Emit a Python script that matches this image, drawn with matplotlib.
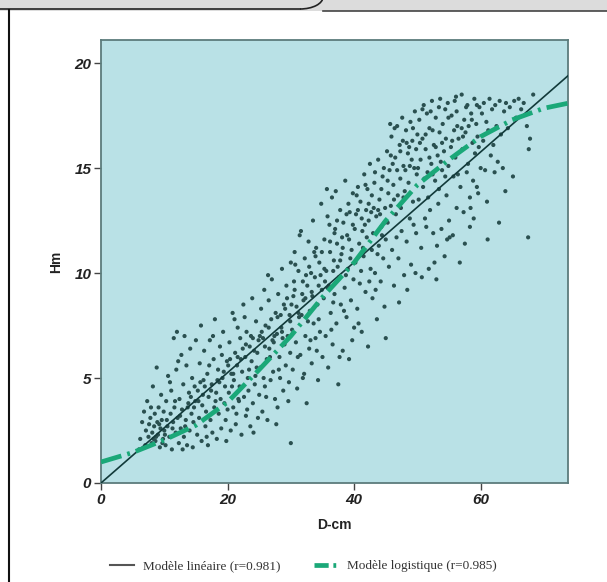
import numpy as np
import matplotlib.pyplot as plt
from matplotlib.lines import Line2D
from matplotlib.patches import Rectangle, Arc

D_cm = [
    6.2, 6.5, 6.8, 7.0, 7.1, 7.3, 7.5, 7.6, 7.8, 8.0, 8.1, 8.2, 8.4, 8.5, 8.6, 8.8, 8.9, 9.0, 9.1, 9.3,
    9.4, 9.5, 9.6, 9.8, 9.9, 10.0, 6.0, 7.9, 8.7, 9.7,
    10.2, 10.3, 10.5, 10.6, 10.8, 11.0, 11.1, 11.2, 11.4, 11.5, 11.6, 11.8, 11.9, 12.0, 12.1, 12.3, 12.4,
    12.6, 12.7, 12.8, 13.0, 13.1, 13.2, 13.4, 13.5, 13.6, 13.8, 13.9, 14.0, 14.1, 14.3, 14.4, 14.5, 14.6,
    14.8, 14.9, 15.0, 10.9, 12.2, 13.3, 14.2, 11.7, 12.9, 10.4,
    15.2, 15.3, 15.5, 15.6, 15.8, 15.9, 16.0, 16.2, 16.3, 16.5, 16.6, 16.8, 16.9, 17.0, 17.2, 17.3, 17.5,
    17.6, 17.8, 17.9, 18.0, 18.2, 18.3, 18.5, 18.6, 18.8, 18.9, 19.0, 19.2, 19.3, 19.5, 19.6, 19.8, 19.9,
    20.0, 16.1, 17.1, 18.1, 19.1, 15.7, 16.7, 17.7, 18.7, 19.7,
    20.2, 20.3, 20.5, 20.6, 20.8, 20.9, 21.0, 21.2, 21.3, 21.5, 21.6, 21.8, 21.9, 22.0, 22.2, 22.3, 22.5,
    22.6, 22.8, 22.9, 23.0, 23.2, 23.3, 23.5, 23.6, 23.8, 23.9, 24.0, 24.2, 24.3, 24.5, 24.6, 24.8, 24.9,
    25.0, 20.4, 21.1, 21.7, 22.4, 23.1, 23.7, 24.4, 22.7, 24.1, 21.4, 20.7,
    25.2, 25.3, 25.5, 25.6, 25.8, 25.9, 26.0, 26.2, 26.3, 26.5, 26.6, 26.8, 26.9, 27.0, 27.2, 27.3, 27.5,
    27.6, 27.8, 27.9, 28.0, 28.2, 28.3, 28.5, 28.6, 28.8, 28.9, 29.0, 29.2, 29.3, 29.5, 29.6, 29.8, 29.9,
    30.0, 25.4, 26.1, 26.7, 27.4, 28.1, 28.7, 29.4, 26.4, 27.7, 29.7, 25.7, 28.4, 30.0,
    30.2, 30.3, 30.5, 30.6, 30.8, 30.9, 31.0, 31.2, 31.3, 31.5, 31.6, 31.8, 31.9, 32.0, 32.2, 32.3, 32.5,
    32.6, 32.8, 32.9, 33.0, 33.2, 33.3, 33.5, 33.6, 33.8, 33.9, 34.0, 34.2, 34.3, 34.5, 34.6, 34.8, 34.9,
    35.0, 30.4, 31.1, 31.7, 32.4, 33.1, 33.7, 34.4, 30.7, 32.1, 33.4, 34.7, 31.4, 32.7, 34.1,
    35.2, 35.3, 35.5, 35.6, 35.8, 35.9, 36.0, 36.2, 36.3, 36.5, 36.6, 36.8, 36.9, 37.0, 37.2, 37.3, 37.5,
    37.6, 37.8, 37.9, 38.0, 38.2, 38.3, 38.5, 38.6, 38.8, 38.9, 39.0, 39.2, 39.3, 39.5, 39.6, 39.8, 39.9,
    40.0, 35.4, 36.1, 36.7, 37.4, 38.1, 38.7, 39.4, 36.4, 37.1, 37.7, 38.4, 39.1, 39.7, 35.7, 36.9,
    40.2, 40.3, 40.5, 40.6, 40.8, 40.9, 41.0, 41.2, 41.3, 41.5, 41.6, 41.8, 41.9, 42.0, 42.2, 42.3, 42.5,
    42.6, 42.8, 42.9, 43.0, 43.2, 43.3, 43.5, 43.6, 43.8, 43.9, 44.0, 44.2, 44.3, 44.5, 44.6, 44.8, 44.9,
    45.0, 40.4, 41.1, 41.7, 42.4, 43.1, 43.7, 44.4, 40.7, 42.1, 43.4, 44.7, 41.4, 42.7, 44.1, 45.0,
    45.2, 45.3, 45.5, 45.6, 45.8, 45.9, 46.0, 46.2, 46.3, 46.5, 46.6, 46.8, 46.9, 47.0, 47.2, 47.3, 47.5,
    47.6, 47.8, 47.9, 48.0, 48.2, 48.3, 48.5, 48.6, 48.8, 48.9, 49.0, 49.2, 49.3, 49.5, 49.6, 49.8, 49.9,
    50.0, 45.4, 46.1, 46.7, 47.4, 48.1, 48.7, 49.4, 45.7, 47.1, 48.4, 49.7, 46.4, 47.7, 49.1,
    50.2, 50.3, 50.5, 50.6, 50.8, 50.9, 51.0, 51.2, 51.3, 51.5, 51.6, 51.8, 51.9, 52.0, 52.2, 52.3, 52.5,
    52.6, 52.8, 52.9, 53.0, 53.2, 53.3, 53.5, 53.6, 53.8, 53.9, 54.0, 54.2, 54.3, 54.5, 54.6, 54.8, 54.9,
    55.0, 50.4, 51.1, 51.7, 52.4, 53.1, 53.7, 54.4, 50.7, 52.1, 53.4, 54.7, 51.4, 52.7,
    55.1, 55.3, 55.4, 55.6, 55.7, 55.9, 56.0, 56.2, 56.3, 56.5, 56.7, 56.8, 57.0, 57.1, 57.3, 57.4, 57.6,
    57.8, 57.9, 58.0, 58.3, 58.3, 58.4, 58.5, 58.7, 58.8, 59.0, 59.1, 59.3, 59.5, 59.6, 59.8, 60.0,
    55.8, 56.4, 57.2, 58.1, 58.9, 59.7, 56.1, 57.5, 59.4,
    60.2, 60.4, 60.5, 60.7, 60.9, 61.1, 61.2, 61.4, 61.6, 61.8, 62.0, 62.2, 62.3, 62.5, 62.7, 62.9, 63.0,
    63.2, 63.5, 63.7, 64.0, 64.3, 64.6, 65.1, 65.3, 65.6, 66.0, 66.4, 66.8, 67.3, 67.5, 67.6, 67.8, 68.3,
    63.9, 61.0,
    20.1, 20.9, 21.6, 22.1, 22.9, 23.4, 24.0, 24.7, 25.1, 25.9, 26.5, 27.1, 27.9, 28.6, 29.1, 29.9,
    30.1, 30.6, 31.2, 31.9, 32.3, 32.9, 33.3, 33.9, 34.4, 34.9, 35.3, 35.8, 36.2, 36.7, 37.3, 37.8,
    38.2, 38.8, 39.2, 39.8,
    40.1, 40.6, 41.2, 41.8, 42.3, 42.8, 43.3, 43.8, 44.3, 44.8, 45.3, 45.8, 46.3, 46.8, 47.3, 47.8,
    48.3, 48.8, 49.3, 49.8,
    50.1, 50.8, 51.3, 51.9, 52.4, 52.9, 53.4, 53.9, 54.4, 54.9, 55.5, 56.2, 57.0, 57.7, 58.6, 59.4,
    8.3, 9.2, 10.1, 11.3, 12.5, 13.7, 14.7, 15.4, 16.4, 17.4, 18.4, 19.4,
]
H_m = [
    2.1, 2.9, 3.4, 1.8, 2.5, 3.9, 2.2, 2.8, 3.1, 1.9, 2.4, 4.6, 2.7, 3.3, 2.0, 5.5, 2.9, 2.3, 3.6, 1.7,
    2.6, 4.2, 3.0, 2.1, 3.4, 2.5, 1.6, 3.6, 2.2, 1.9,
    1.8, 3.9, 2.7, 5.1, 2.2, 3.3, 4.4, 1.6, 2.9, 6.9, 3.6, 2.4, 5.4, 7.2, 3.1, 1.9, 4.0,
    2.6, 6.1, 3.5, 4.7, 2.2, 7.0, 3.0, 5.6, 1.8, 3.8, 4.3, 2.5, 6.4, 3.3, 5.0, 1.7, 2.9,
    4.6, 3.9, 6.8, 4.8, 5.8, 2.7, 4.1, 3.9, 1.6, 3.0,
    2.3, 4.4, 3.1, 5.7, 7.5, 2.0, 3.7, 4.9, 6.3, 2.7, 3.4, 5.2, 1.8, 4.1, 6.8, 3.0, 4.7,
    2.4, 5.9, 3.6, 7.8, 4.3, 2.1, 5.4, 3.3, 6.5, 4.0, 2.6, 5.0, 7.2, 3.8, 4.6, 2.0, 5.8,
    3.5, 4.2, 5.6, 3.9, 6.1, 4.8, 2.2, 7.0, 4.8, 3.0,
    4.3, 6.7, 2.5, 5.2, 8.1, 3.6, 4.9, 6.2, 2.8, 5.6, 7.4, 3.9, 4.6, 6.9, 2.3, 5.3, 8.5,
    4.1, 6.0, 3.2, 7.2, 5.0, 4.4, 6.5, 2.7, 5.8, 8.8, 3.8, 6.3, 4.7, 7.7, 5.5, 3.1, 6.8,
    4.2, 5.9, 7.8, 4.0, 6.4, 3.5, 7.0, 5.1, 7.9, 2.4, 3.3, 4.6,
    5.5, 8.3, 3.4, 6.9, 9.2, 4.6, 7.5, 5.9, 3.0, 8.7, 6.4, 4.9, 7.8, 9.7, 5.3, 6.7, 4.0,
    8.1, 7.1, 3.6, 9.0, 6.0, 5.0, 7.4, 10.2, 4.4, 8.5, 6.6, 5.6, 9.4, 7.0, 3.9, 8.0, 6.2,
    10.5, 7.2, 4.1, 6.0, 7.0, 5.4, 6.9, 8.8, 9.9, 2.8, 4.8, 5.0, 8.0, 1.9,
    7.3, 5.4, 9.6, 11.0, 6.7, 8.4, 4.5, 10.1, 7.9, 6.1, 12.0, 9.0, 5.0, 8.7, 10.7, 7.0, 3.8,
    9.4, 11.5, 6.4, 8.2, 10.0, 5.7, 12.5, 7.6, 9.8, 6.9, 11.2, 8.5, 4.9, 10.5, 7.2, 13.3, 9.2,
    6.0, 8.9, 6.0, 8.0, 9.9, 6.8, 11.0, 7.8, 10.4, 5.2, 8.9, 9.9, 11.8, 7.7, 6.3,
    8.8, 11.6, 7.0, 10.1, 12.7, 5.5, 9.4, 11.0, 8.1, 13.6, 6.6, 10.6, 9.0, 12.1, 7.6, 11.4, 4.7,
    9.8, 13.0, 8.5, 10.9, 6.3, 12.4, 9.3, 14.4, 7.9, 11.8, 10.2, 5.9, 12.9, 8.7, 11.1, 13.8, 9.7,
    7.4, 9.6, 12.3, 8.6, 10.3, 11.7, 9.9, 10.7, 7.3, 13.9, 6.0, 8.2, 13.3, 6.8, 14.0, 11.9,
    10.5, 12.8, 8.3, 14.1, 11.4, 9.5, 13.4, 7.2, 12.0, 10.8, 14.7, 9.1, 13.0, 11.7, 6.5, 12.5, 15.2,
    10.2, 13.7, 8.8, 11.9, 14.3, 10.0, 12.7, 7.8, 15.4, 11.3, 13.5, 9.6, 12.2, 14.6, 10.7, 8.4, 13.1,
    11.6, 13.7, 10.1, 12.3, 9.6, 13.1, 10.9, 11.8, 7.6, 14.0, 9.2, 15.0, 11.2, 12.9, 12.8, 6.9,
    15.8, 12.4, 10.3, 14.9, 13.2, 16.5, 11.1, 14.2, 9.4, 15.5, 12.8, 17.0, 13.7, 10.7, 16.1, 14.5, 12.0,
    17.4, 15.1, 9.9, 13.9, 16.8, 11.5, 15.7, 14.3, 12.6, 17.2, 10.4, 16.3, 13.4, 15.0, 17.7, 11.9, 14.7,
    16.6, 13.8, 15.2, 11.7, 13.1, 14.9, 16.0, 12.3, 17.1, 8.6, 9.2, 10.0, 16.9, 16.3, 15.4,
    13.5, 17.3, 15.4, 11.2, 16.4, 14.1, 18.0, 12.6, 15.9, 17.6, 14.8, 10.2, 16.9, 13.0, 15.2, 18.2, 11.9,
    16.1, 14.4, 17.4, 9.7, 15.6, 13.3, 16.7, 18.3, 12.1, 14.9, 17.1, 15.8, 10.8, 16.4, 13.7, 18.1, 15.1,
    12.5, 16.2, 14.5, 13.6, 16.8, 11.3, 15.3, 17.8, 9.8, 17.7, 14.0, 11.6, 12.2, 10.5,
    11.7, 16.0, 17.5, 11.8, 14.6, 18.2, 15.5, 13.1, 17.0, 16.4, 10.5, 14.1, 18.5, 15.9, 12.9, 17.3, 16.7,
    14.8, 18.0, 15.2, 12.2, 13.6, 13.1, 17.6, 16.2, 14.4, 18.3, 15.7, 17.1, 16.5, 13.8, 17.9, 15.0,
    16.8, 14.7, 16.5, 17.0, 12.6, 16.0, 18.4, 11.4, 14.1,
    17.6, 16.3, 18.1, 14.9, 17.2, 11.6, 16.8, 18.3, 15.6, 17.8, 16.1, 14.8, 18.0, 17.0, 15.3, 12.4, 18.2,
    16.6, 15.0, 17.7, 18.1, 16.9, 17.9, 14.6, 18.2, 17.4, 18.3, 17.8, 18.1, 17.0, 11.7, 15.9, 16.4, 18.5,
    13.9, 13.4,
    5.6, 5.2, 6.0, 5.9, 6.6, 5.4, 6.9, 6.2, 7.0, 6.5, 7.4, 6.8, 7.9, 7.2, 8.3, 7.7,
    8.5, 9.2, 8.1, 9.6, 8.8, 10.3, 9.1, 10.8, 9.4, 11.0, 10.2, 9.3, 11.5, 10.1, 12.5, 10.6,
    11.2, 12.8, 11.6, 12.3,
    12.1, 13.0, 12.6, 14.2, 13.3, 11.1, 14.8, 13.0, 14.0, 12.4, 14.4, 15.6, 13.5, 14.9, 15.8, 13.6,
    16.2, 15.1, 16.9, 15.9,
    15.0, 17.8, 16.6, 15.5, 14.7, 16.0, 17.9, 16.2, 14.6, 17.4, 16.3, 17.7, 16.9, 17.9, 17.3, 18.0,
    2.1, 2.8, 2.3, 2.6, 3.2, 3.6, 3.6, 3.9, 4.6, 4.4, 4.9, 5.3,
]

# modele lineaire (r=0.981)
lin_x = [0, 74]
lin_y = [0, 19.45]

# modele logistique (r=0.985)
log_x = [0, 5, 10, 15, 20, 25, 30, 35, 40, 45, 50, 55, 60, 65, 70, 74]
log_y = [1.0, 1.45, 2.05, 2.75, 3.85, 5.4, 7.0, 8.85, 10.5, 12.5, 14.2, 15.4, 16.5, 17.3, 17.85, 18.1]

fond = "#b9e1e6"
vert = "#1aa878"
points = "#2a5050"

fig = plt.figure(figsize=(6.07, 5.82), dpi=100)

# bandeau gris en haut et cadre
fig.patches.append(Rectangle((0, 1 - 11 / 582), 1, 11 / 582, transform=fig.transFigure,
                             facecolor="#dcdcdc", edgecolor="none", zorder=0))
fig.lines.append(Line2D([0, 300 / 607], [1 - 9 / 582, 1 - 9 / 582], transform=fig.transFigure,
                        color="#222222", lw=1.2))
fig.lines.append(Line2D([323 / 607, 1], [1 - 10.5 / 582, 1 - 10.5 / 582], transform=fig.transFigure,
                        color="#444444", lw=1.2))
fig.patches.append(Arc((300 / 607, 1 + 3 / 582), 46 / 607, 24 / 582, theta1=270, theta2=360,
                       transform=fig.transFigure, color="#222222", lw=1.2))
fig.lines.append(Line2D([9 / 607, 9 / 607], [0, 1 - 10 / 582], transform=fig.transFigure,
                        color="#111111", lw=1.5))

ax = fig.add_axes([101 / 607, 99 / 582, 467 / 607, 443 / 582])
ax.set_facecolor(fond)

ax.scatter(D_cm, H_m, s=9, color=points, edgecolors="none", zorder=2)
ax.plot(lin_x, lin_y, color="#123a3a", lw=1.2, zorder=3)
ax.plot(log_x, log_y, color=vert, lw=3.4, dashes=(4.5, 1.3, 0.6, 1.3), zorder=4)

ax.set_xlim(0, 73.8)
ax.set_ylim(0, 21.1)
ax.set_xticks([0, 20, 40, 60])
ax.set_yticks([0, 5, 10, 15, 20])
for s in ax.spines.values():
    s.set_color("#5c7c7c")
    s.set_linewidth(1.3)
ax.tick_params(direction="out", length=5, width=1, color="#444444", pad=2)
for lab in ax.get_xticklabels() + ax.get_yticklabels():
    lab.set_family("Liberation Sans")
    lab.set_fontweight("bold")
    lab.set_fontstyle("italic")
    lab.set_fontsize(11)
    lab.set_color("#222222")

ax.set_xlabel("D-cm", family="Liberation Sans", fontweight="bold", fontsize=10, color="#222222", labelpad=8)
ax.set_ylabel("Hm", family="Liberation Sans", fontweight="bold", fontsize=10, color="#222222", labelpad=8)

handles = [Line2D([], [], color="#555555", lw=1.5),
           Line2D([], [], color=vert, lw=3.4, dashes=(3, 1.0, 0.6, 1.0))]
fig.legend(handles, ["Modèle linéaire (r=0.981)", "Modèle logistique (r=0.985)"],
           loc="center", bbox_to_anchor=(0.5, 16 / 582), ncol=2, frameon=False,
           prop={"family": "Liberation Serif", "size": 9.5}, labelcolor="#333333",
           handlelength=1.8, columnspacing=2.5, handletextpad=0.7)

plt.savefig("out.png", dpi=100)
